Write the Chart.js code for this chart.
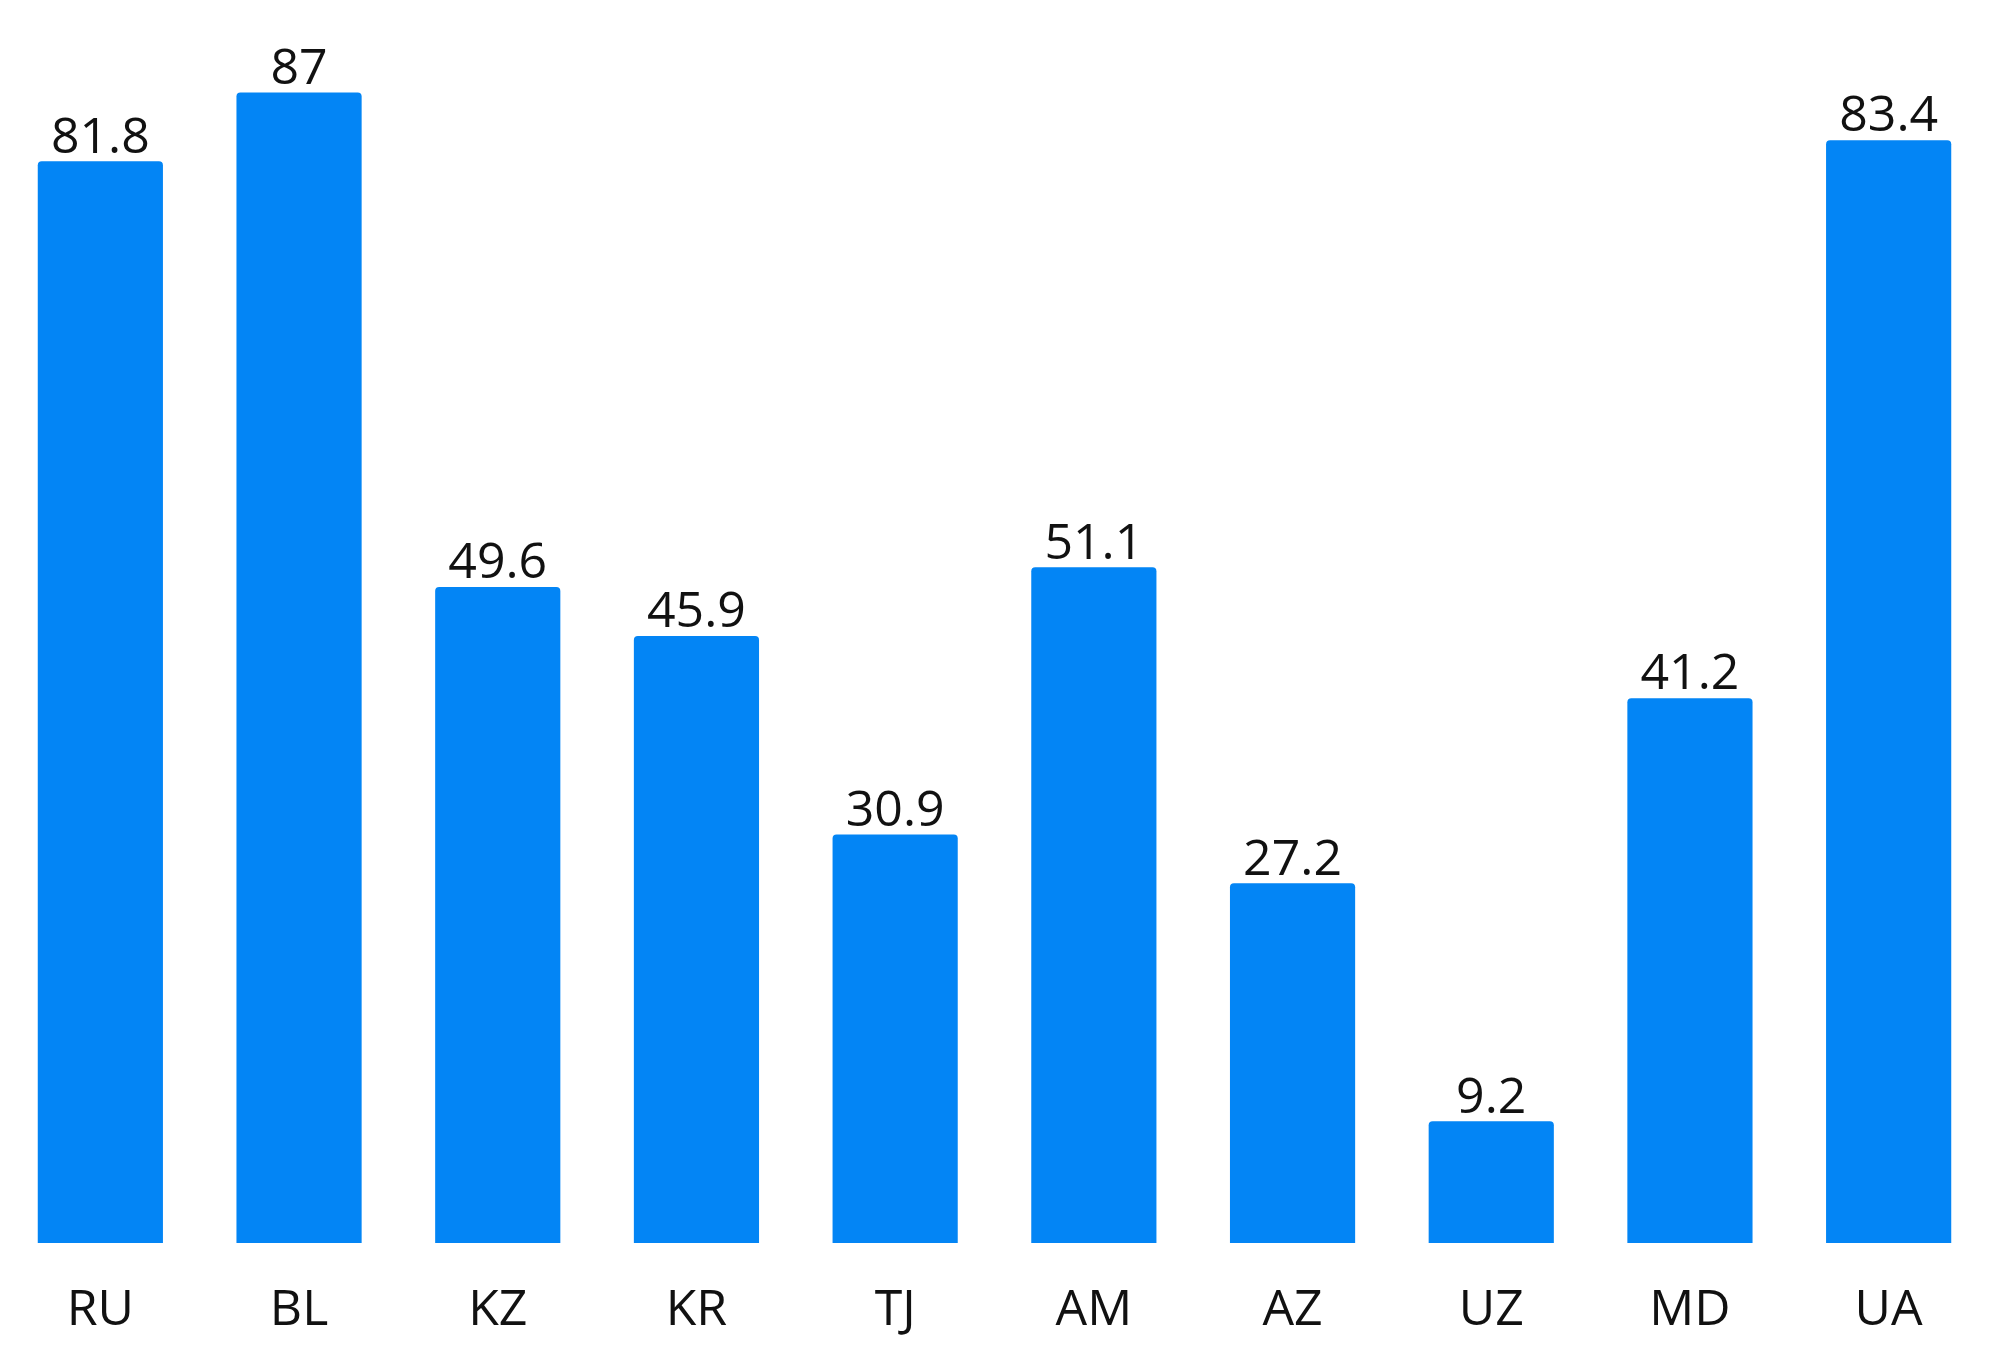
<!DOCTYPE html>
<html><head><meta charset="utf-8">
<script src="https://cdn.jsdelivr.net/npm/chart.js@4"></script>
<style>html,body{margin:0;padding:0;background:#fff}#w{width:2000px;height:1371px}</style>
</head><body><div id="w"><canvas id="c"></canvas></div>
<script>
const categories = ["RU","BL","KZ","KR","TJ","AM","AZ","UZ","MD","UA"];
const values = [81.8,87,49.6,45.9,30.9,51.1,27.2,9.2,41.2,83.4];
const valueLabels = ["81.8","87","49.6","45.9","30.9","51.1","27.2","9.2","41.2","83.4"];
const labelPlugin = {
  id:'vl',
  afterDatasetsDraw(chart){
    const ctx = chart.ctx, meta = chart.getDatasetMeta(0);
    ctx.save();
    ctx.font = '50px "Open Sans", "Liberation Sans", Arial, sans-serif';
    ctx.fillStyle = '#111'; ctx.textAlign = 'center'; ctx.textBaseline = 'bottom';
    meta.data.forEach((b,i)=>ctx.fillText(valueLabels[i], b.x, b.y + 2));
    ctx.restore();
  }
};
new Chart(document.getElementById('c'), {
  type:'bar',
  data:{labels:categories, datasets:[{data:values, backgroundColor:'#0385f5', borderRadius:4, borderSkipped:'bottom', barPercentage:0.63, categoryPercentage:1}]},
  options:{
    responsive:true, maintainAspectRatio:false, animation:false,
    layout:{padding:{left:1,right:12,top:0,bottom:0}},
    plugins:{legend:{display:false}, tooltip:{enabled:false}},
    scales:{
      y:{display:false, min:0, max:94},
      x:{grid:{display:false}, border:{display:false},
         ticks:{color:'#111', padding:30, font:{size:50, family:'"Open Sans", "Liberation Sans", Arial, sans-serif'}}}
    }
  },
  plugins:[labelPlugin]
});
</script></body></html>
